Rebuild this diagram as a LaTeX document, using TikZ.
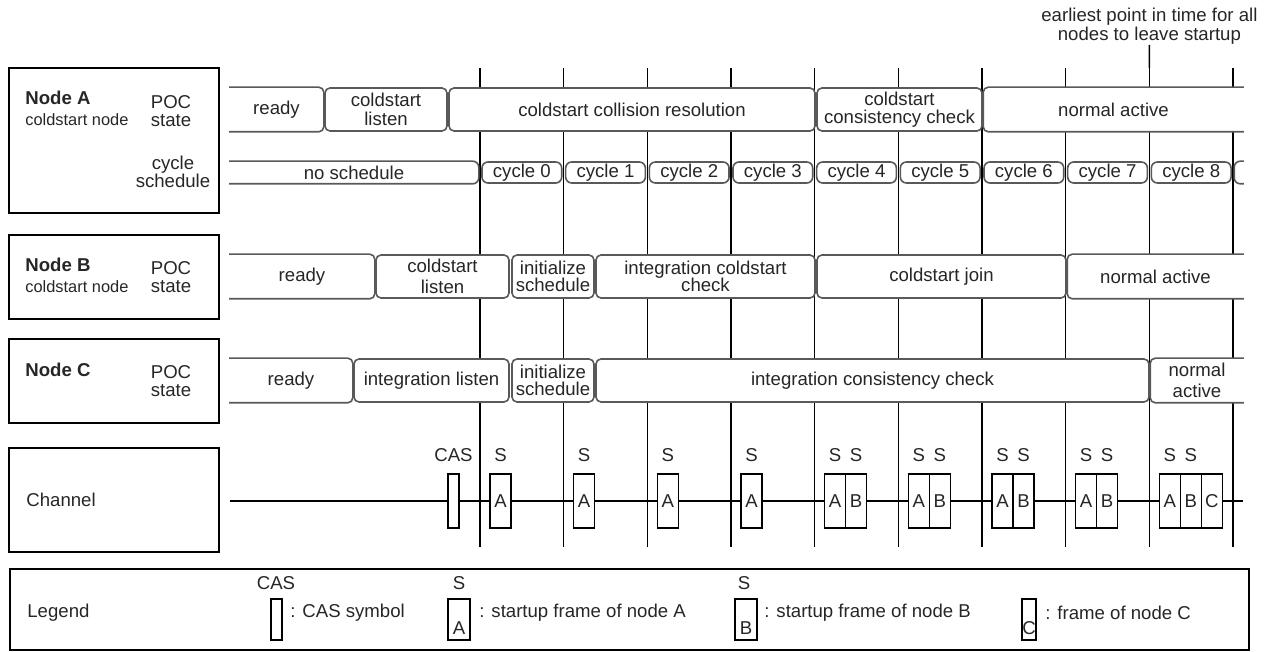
\documentclass[tikz,border=0pt]{standalone}
\usepackage{fontspec}
\setmainfont{Liberation Sans}
\usepackage{tikz}
\usetikzlibrary{fit}

\begin{document}
\begin{tikzpicture}[
    x=0.5pt, y=-0.5pt, inner sep=0pt,
    font=\fontsize{9.3}{8.75}\selectfont, text=black!85,
    panel/.style={draw, line width=0.8pt},
    phase/.style={draw=black!65, line width=0.8pt, fill=white, rounded corners=2.5pt},
    txt/.style={label={[align=center]center:#1}},
    cyc/.style={phase, rounded corners=3pt},
    bare/.style={phase, draw=none},
    rim/.style={draw=black!65, line width=0.8pt, rounded corners=2.5pt},
    tick/.style={line width=0.8pt},
    frm/.style={draw, fill=white, line width=0.7pt,
                minimum width=10.5pt, minimum height=27pt},
    lgfrm/.style={frm, minimum width=11pt, minimum height=20.5pt},
    small/.style={font=\fontsize{8.2}{9}\selectfont, anchor=west},
    title/.style={font=\fontsize{9.3}{10}\selectfont\bfseries, anchor=west},
]
\useasboundingbox (0,0) rectangle (1271,652);

% time grid
\foreach \k in {0,...,9} {
    \coordinate (top\k) at ({480+83.67*\k},68);
    \coordinate (bot\k) at ({480+83.67*\k},547);
    \draw[tick] (top\k) -- (bot\k);
}
\node[align=center, anchor=south, font=\fontsize{9.3}{9.8}\selectfont] (early) at (1149.4,45)
    {earliest point in time for all\\nodes to leave startup};
\draw[tick] (early.south) -- (top8);

% left panels
\node[panel, fit={(9,68) (219,213)}] (pa) {};
\node[panel, fit={(9,235) (219,319)}] (pb) {};
\node[panel, fit={(9,339) (219,423)}] (pc) {};
\node[panel, fit={(9,448) (219,552)}] (pch) {};
\node[panel, fit={(10,569) (1249,650)}] (plg) {};

\node[title] (na) at (25,98) {Node A};
\node[small] (nar) at (25,120) {coldstart node};
\node[align=center] (poca) at (171,111) {POC\\state};
\node[align=center] (cyca) at (173,172) {cycle\\schedule};
\node[title] (nb) at (25,265) {Node B};
\node[small] (nbr) at (25,287) {coldstart node};
\node[align=center] (pocb) at (171,277) {POC\\state};
\node[title] (nc) at (25,370) {Node C};
\node[align=center] (pocc) at (171,381) {POC\\state};
\node[anchor=west] (ch) at (26,500) {Channel};
\node[anchor=west] (lg) at (27,613) {Legend};

% node A, POC state
\node[bare, fit={(230,88) (323,131)}, txt=ready] (aready) {};
\draw[rim] (aready.north west) -- (aready.north east) -- (aready.south east) -- (aready.south west);
\node[phase, fit={(325,88) (447,131)}, txt={coldstart\\[1pt]listen}] (alisten) {};
\node[phase, fit={(449,88) (815,131)}, txt={coldstart collision resolution}] (aresol) {};
\node[phase, fit={(817,88) (982,131)}, txt={coldstart\\consistency check}] (acheck) {};
\node[bare, fit={(984,88) (1243,131)}, txt={normal active}] (aactive) {};
\draw[rim] (aactive.north east) -- (aactive.north west) -- (aactive.south west) -- (aactive.south east);

% node A, cycle schedule
\node[bare, fit={(230,162) (478,183)}, txt={no schedule}] (nosched) {};
\draw[rim, rounded corners=3pt] (nosched.north west) -- (nosched.north east) -- (nosched.south east) -- (nosched.south west);
\foreach \k in {0,...,8}
    \node[cyc, fit={({482+83.67*\k},162) ({561.7+83.67*\k},183)}, txt={cycle \k}] (cyc\k) {};
\node[bare, fit={(1235,162) (1243,183)}] (cyc9) {};
\draw[rim, rounded corners=3pt] (cyc9.north east) -- (cyc9.north west) -- (cyc9.south west) -- (cyc9.south east);

% node B, POC state
\node[bare, fit={(230,255) (374,298)}, txt=ready] (bready) {};
\draw[rim] (bready.north west) -- (bready.north east) -- (bready.south east) -- (bready.south west);
\node[phase, fit={(376,255) (509,298)}, txt={coldstart\\[2pt]listen}] (blisten) {};
\node[phase, fit={(512,255) (594,298)}, txt={initialize\\schedule}] (binit) {};
\node[phase, fit={(596,255) (815,298)}, txt={integration coldstart\\check}] (bcheck) {};
\node[phase, fit={(817,255) (1066,298)}, txt={coldstart join}] (bjoin) {};
\node[bare, fit={(1068,255) (1243,298)}, txt={normal active}] (bactive) {};
\draw[rim] (bactive.north east) -- (bactive.north west) -- (bactive.south west) -- (bactive.south east);

% node C, POC state
\node[bare, fit={(230,359) (352,402)}, txt=ready] (cready) {};
\draw[rim] (cready.north west) -- (cready.north east) -- (cready.south east) -- (cready.south west);
\node[phase, fit={(354,359) (509,402)}, txt={integration listen}] (clisten) {};
\node[phase, fit={(512,359) (594,402)}, txt={initialize\\schedule}] (cinit) {};
\node[phase, fit={(596,359) (1149,402)}, txt={integration consistency check}] (ccheck) {};
\node[bare, fit={(1151,359) (1243,402)}, txt={normal\\[2pt]active}] (cactive) {};
\draw[rim] (cactive.north east) -- (cactive.north west) -- (cactive.south west) -- (cactive.south east);

% channel
\coordinate (chl) at (230,501);
\coordinate (chr) at (1243,501);
\draw[tick] (chl) -- (chr);
\node[frm, minimum width=5.5pt] (cas) at (453.5,501) {};
\node (caslbl) at (453.5,455) {CAS};
\foreach \k in {0,...,8} {
    \node[frm] (fa\k) at ({500.5+83.67*\k},501) {A};
    \node (sa\k) at ({500.5+83.67*\k},455) {S};
}
\foreach \k in {4,...,8} {
    \node[frm] (fb\k) at ({521.5+83.67*\k},501) {B};
    \node (sb\k) at ({521.5+83.67*\k},455) {S};
}
\node[frm] (fc8) at ({542.5+83.67*8},501) {C};

% legend
\node[lgfrm, minimum width=5.5pt] (lgcas) at (276.5,619.5) {};
\node (lgcaslbl) at (276,583) {CAS};
\node[anchor=west] (lgcastxt) at (290,613) {: CAS symbol};
\node[lgfrm] (lga) at (459,619.5) {};
\node (lgalbl) at (459,628) {A};
\node (lgas) at (459,583) {S};
\node[anchor=west] (lgatxt) at (479,613) {: startup frame of node A};
\node[lgfrm] (lgb) at (746,619.5) {};
\node (lgblbl) at (746,628) {B};
\node (lgbs) at (744,583) {S};
\node[anchor=west] (lgbtxt) at (764,613) {: startup frame of node B};
\node[lgfrm, minimum width=7pt] (lgc) at (1029,619.5) {};
\node (lgclbl) at (1029,628) {C};
\node[anchor=west] (lgctxt) at (1045,613) {: frame of node C};
\end{tikzpicture}
\end{document}
